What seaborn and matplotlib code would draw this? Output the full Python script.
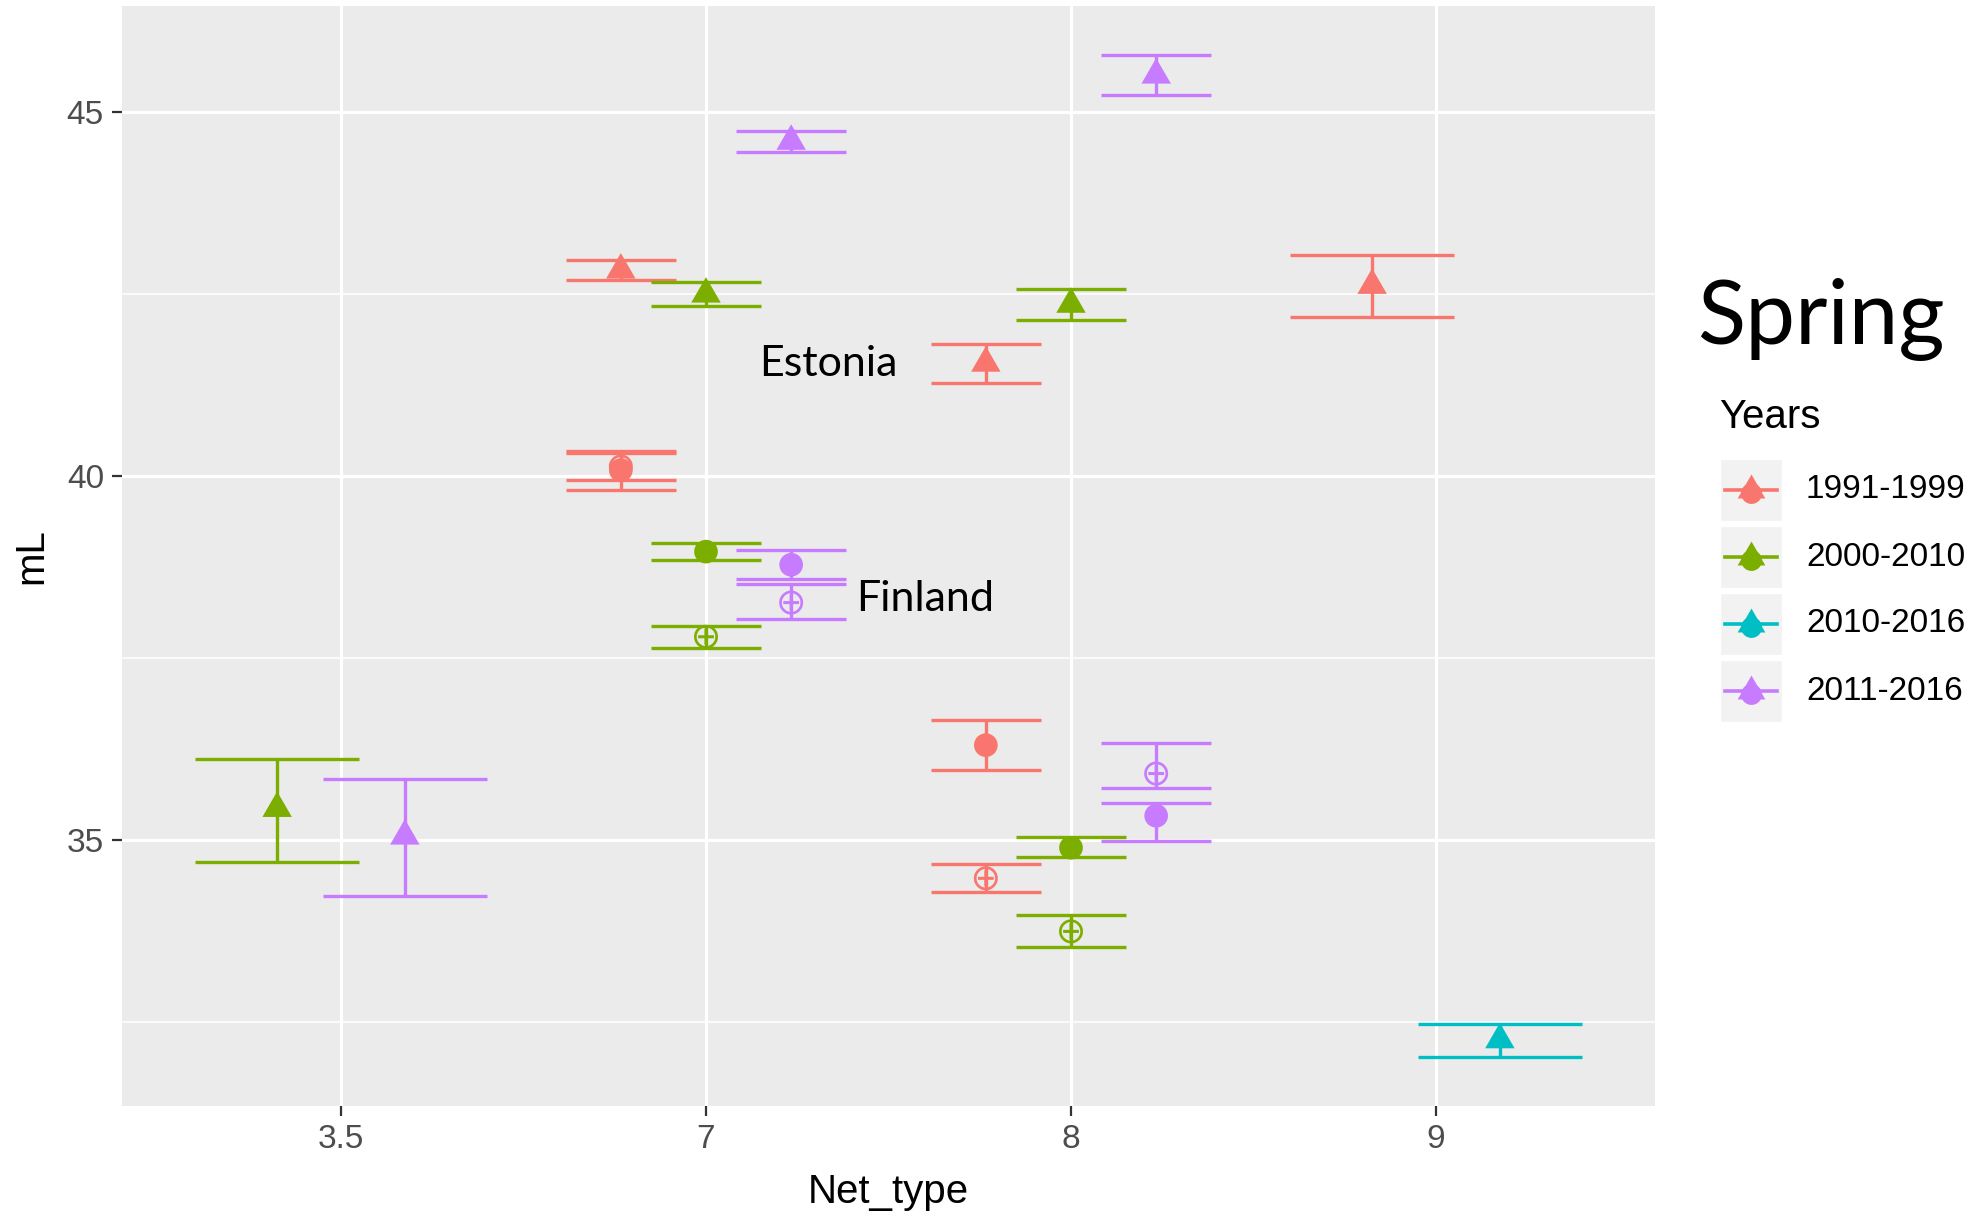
import numpy as np
import pandas as pd
import matplotlib
matplotlib.use("Agg")
import matplotlib.pyplot as plt
import seaborn as sns
from matplotlib.lines import Line2D
from matplotlib.patches import Rectangle

# ---------------- data ----------------
net_types = ["3.5", "7", "8", "9"]
year_levels = ["1991-1999", "2000-2010", "2010-2016", "2011-2016"]
year_colors = ["#F8766D", "#7CAE00", "#00BFC4", "#C77CFF"]

rec_net = ["3.5", "3.5",
           "7", "7", "7", "7", "7", "7", "7", "7", "7",
           "8", "8", "8", "8", "8", "8", "8", "8", "8",
           "9", "9"]
rec_years = ["2000-2010", "2011-2016",
             "1991-1999", "2000-2010", "2011-2016", "1991-1999", "1991-1999",
             "2000-2010", "2000-2010", "2011-2016", "2011-2016",
             "1991-1999", "2000-2010", "2011-2016", "1991-1999", "1991-1999",
             "2000-2010", "2000-2010", "2011-2016", "2011-2016",
             "1991-1999", "2010-2016"]
rec_shape = ["tri", "tri",
             "tri", "tri", "tri", "dot", "oplus", "dot", "oplus", "dot", "oplus",
             "tri", "tri", "tri", "dot", "oplus", "dot", "oplus", "dot", "oplus",
             "tri", "tri"]
rec_mean = [35.43, 35.05,
            42.83, 42.50, 44.60, 40.08, 40.13, 38.96, 37.79, 38.78, 38.26,
            41.55, 42.36, 45.51, 36.30, 34.47, 34.89, 33.74, 35.33, 35.91,
            42.62, 32.25]
rec_low = [34.69, 34.22,
           42.69, 42.34, 44.46, 39.81, 39.94, 38.85, 37.64, 38.58, 38.03,
           41.28, 42.14, 45.24, 35.96, 34.28, 34.76, 33.52, 34.98, 35.71,
           42.19, 32.01]
rec_high = [36.11, 35.83,
            42.97, 42.66, 44.74, 40.34, 40.32, 39.08, 37.94, 38.98, 38.51,
            41.81, 42.57, 45.78, 36.64, 34.67, 35.04, 33.97, 35.51, 36.33,
            43.04, 32.47]

df = pd.DataFrame({"Net_type": rec_net, "Years": rec_years, "shape": rec_shape,
                   "mL": rec_mean, "low": rec_low, "high": rec_high})

# position dodge (width 0.7), error bar width 0.9 split among groups
DODGE, EBW = 0.7, 0.9
xpos, halfw = [], []
for _, r in df.iterrows():
    present = [y for y in year_levels if y in set(df.loc[df.Net_type == r.Net_type, "Years"])]
    n = len(present)
    i = present.index(r.Years)
    base = net_types.index(r.Net_type)
    xpos.append(base + (i - (n - 1) / 2) * DODGE / n)
    halfw.append(EBW / n / 2)
df["x"] = xpos
df["hw"] = halfw

# ---------------- figure ----------------
W, H = 1980, 1214
fig = plt.figure(figsize=(W / 100, H / 100), dpi=100)
fig.patch.set_facecolor("white")
ax = fig.add_axes([122 / W, 1 - 1106 / H, (1655 - 122) / W, (1106 - 6) / H])
ax.set_facecolor("#EBEBEB")
for s in ax.spines.values():
    s.set_visible(False)

ax.set_xlim(-0.6, 3.6)
ax.set_ylim(31.34, 46.46)
ax.set_xticks(range(len(net_types)))
ax.set_xticklabels(net_types)
ax.set_yticks([35, 40, 45])
ax.set_yticks([32.5, 37.5, 42.5], minor=True)
ax.set_xticks([], minor=True)
ax.grid(True, which="major", color="white", linewidth=2.3, zorder=0)
ax.grid(True, which="minor", axis="y", color="white", linewidth=1.1, zorder=0)
ax.set_axisbelow(True)

ax.tick_params(axis="both", which="major", length=7, width=1.6, color="#333333",
               labelsize=24, labelcolor="#4D4D4D", pad=6)
ax.tick_params(axis="both", which="minor", length=0)
for lab in ax.get_xticklabels() + ax.get_yticklabels():
    lab.set_family("Liberation Sans")

cmap = dict(zip(year_levels, year_colors))

# error bars
for _, r in df.iterrows():
    c = cmap[r.Years]
    ax.vlines(r.x, r.low, r.high, color=c, linewidth=2.4, zorder=2)
    ax.hlines([r.low, r.high], r.x - r.hw, r.x + r.hw, color=c, linewidth=2.4, zorder=2)

# points
tri = [(0, 1), (-0.866, -0.5), (0.866, -0.5)]
sns.scatterplot(data=df, x="x", y="mL", hue="Years", hue_order=year_levels,
                palette=year_colors, style="shape",
                markers={"tri": tri, "dot": "o", "oplus": "$\u2295$"},
                size="shape", sizes={"tri": 600, "dot": 290, "oplus": 300},
                linewidth=0, legend=False, ax=ax, zorder=3)
ax.set_xlabel("Net_type", family="Liberation Sans", fontsize=29, labelpad=13)
ax.set_ylabel("mL", family="Liberation Sans", fontsize=29, labelpad=12)

# annotations
ax.text(1.146, 41.37, "Estonia", family="Lato", fontsize=31, ha="left", va="baseline")
ax.text(1.410, 38.14, "Finland", family="Lato", fontsize=31, ha="left", va="baseline")

# ---------------- legend (manual) ----------------
def fx(px):
    return px / W

def fy(py):
    return 1 - py / H

fig.text(fx(1697), fy(344), "Spring", family="Lato", fontsize=64, ha="left", va="baseline")
fig.text(fx(1719), fy(417), "Years", family="Liberation Sans", fontsize=29, ha="left", va="center")

row_top = [459, 526, 593, 660]
key = 62
for yt, lab, col in zip(row_top, year_levels, year_colors):
    fig.add_artist(Rectangle((fx(1720), fy(yt + key)), key / W, key / H,
                             transform=fig.transFigure, facecolor="#F2F2F2",
                             edgecolor="white", linewidth=1))
    yc = fy(yt + key / 2)
    fig.add_artist(Line2D([fx(1725), fx(1777)], [yc, yc], transform=fig.transFigure,
                          color=col, linewidth=2.6))
    fig.add_artist(Line2D([fx(1751)], [fy(yt + key / 2 + 3)], transform=fig.transFigure,
                          marker="o", markersize=15, color=col, markeredgewidth=0, linestyle="none"))
    fig.add_artist(Line2D([fx(1751)], [yc], transform=fig.transFigure,
                          marker=tri, markersize=23, color=col, markeredgewidth=0, linestyle="none"))
    fig.text(fx(1806), yc, lab, family="Liberation Sans", fontsize=24, ha="left", va="center")

fig.savefig("out.png", dpi=100)
